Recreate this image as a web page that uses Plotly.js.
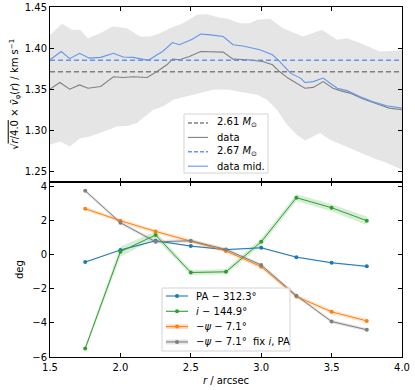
<!DOCTYPE html>
<html>
<head>
<meta charset="utf-8">
<script src="https://cdn.plot.ly/plotly-3.0.1.min.js"></script>
<style>body{margin:0;background:#fff}</style>
</head>
<body>
<div id="chart" style="width:415px;height:390px"></div>
<script>
// top panel: rotation curve scaled by sqrt(r/4.0)
const rData = [1.50,1.57,1.64,1.71,1.77,1.86,1.95,2.02,2.09,2.19,2.26,2.33,2.37,2.42,2.49,2.57,2.73,2.80,2.90,3.01,3.08,3.13,3.19,3.25,3.31,3.37,3.44,3.51,3.56,3.63,3.72,3.82,3.91,4.00];
const vData = [1.3508,1.359,1.3508,1.356,1.352,1.354,1.366,1.365,1.366,1.365,1.3723,1.3805,1.3874,1.3866,1.3906,1.3967,1.396,1.3874,1.3866,1.3845,1.3805,1.3723,1.3643,1.358,1.352,1.353,1.360,1.352,1.349,1.346,1.339,1.333,1.3277,1.3256];

const rMid = [1.50,1.58,1.64,1.71,1.78,1.86,1.95,2.02,2.09,2.14,2.20,2.26,2.30,2.37,2.42,2.51,2.57,2.64,2.73,2.80,2.87,2.99,3.08,3.12,3.21,3.28,3.31,3.37,3.44,3.49,3.54,3.61,3.70,3.79,3.89,4.00];
const vMid = [1.3866,1.3967,1.388,1.3945,1.3886,1.3896,1.3945,1.390,1.3896,1.3876,1.386,1.3927,1.3967,1.4077,1.405,1.4118,1.418,1.417,1.415,1.405,1.4035,1.3988,1.3927,1.3866,1.370,1.3643,1.359,1.360,1.3643,1.358,1.352,1.349,1.3418,1.3357,1.3305,1.3277];

const rHi = [1.50,1.585,1.656,1.713,1.77,1.855,1.947,2.047,2.139,2.21,2.281,2.352,2.445,2.544,2.615,2.707,2.757,2.849,2.92,2.97,3.063,3.155,3.297,3.432,3.538,3.609,3.702,3.842,3.963,4.0];
const bandHi = [1.417,1.4305,1.4232,1.4232,1.413,1.419,1.4272,1.4252,1.415,1.415,1.419,1.4252,1.4313,1.4415,1.4423,1.438,1.437,1.4313,1.4313,1.4354,1.4366,1.4252,1.415,1.4232,1.411,1.413,1.407,1.3967,1.3976,1.3988];
const rLo = [1.50,1.571,1.642,1.713,1.784,1.876,1.976,2.047,2.118,2.189,2.232,2.303,2.374,2.473,2.565,2.658,2.757,2.849,2.97,3.041,3.112,3.183,3.254,3.311,3.418,3.489,3.56,3.68,3.794,3.893,4.0];
const bandLo = [1.283,1.287,1.281,1.291,1.293,1.299,1.3053,1.306,1.3094,1.3195,1.3256,1.3297,1.3378,1.3418,1.346,1.35,1.3505,1.348,1.344,1.3378,1.3256,1.3073,1.295,1.2882,1.2972,1.289,1.283,1.2748,1.2667,1.2606,1.2524];

const fitA = 1.372; // 2.61 Msun
const fitB = 1.386; // 2.67 Msun

// bottom panel: geometry residuals
const rRing = [1.75,2.0,2.25,2.5,2.75,3.0,3.25,3.5,3.75];
const dPA = [-0.43,0.28,0.82,0.51,0.3,0.41,-0.14,-0.47,-0.68];
const dInc = [-5.5,0.18,1.16,-1.04,-1.0,0.76,3.35,2.76,2.0];
const dPsi = [2.7,2.0,1.37,0.8,0.22,-0.7,-2.45,-3.35,-3.88];
const dPsiFix = [3.76,1.88,0.76,0.82,0.31,-0.6,-2.4,-3.92,-4.4];
const ePA = [0.05,0.05,0.05,0.05,0.05,0.05,0.05,0.05,0.05];
const eInc = [0.15,0.3,0.2,0.15,0.15,0.2,0.2,0.2,0.25];
const ePsi = [0.12,0.12,0.12,0.12,0.12,0.12,0.12,0.12,0.12];
const ePsiFix = [0.1,0.1,0.1,0.1,0.1,0.1,0.1,0.1,0.1];

const topLabels = ['2.61 <i>M</i><sub>⊙</sub>', 'data', '2.67 <i>M</i><sub>⊙</sub>', 'data mid.'];
const botLabels = ['PA − 312.3°', '<i>i</i> − 144.9°', '−<i>ψ</i> − 7.1°', '−<i>ψ</i> − 7.1°  fix <i>i</i>, PA'];

const GREY = '#808080', BLUE = '#6495ed';
const C_PA = '#1f77b4', C_I = '#2ca02c', C_PSI = '#ff7f0e', C_FIX = '#7f7f7f';

function band(x, y, e, color) {
    return {
        x: x.concat(x.slice().reverse()),
        y: y.map((v, i) => v + e[i]).concat(y.map((v, i) => v - e[i]).reverse()),
        fill: 'toself', fillcolor: color, line: {width: 0},
        mode: 'lines', hoverinfo: 'skip', xaxis: 'x', yaxis: 'y'
    };
}

function series(x, y, color) {
    return {
        x: x, y: y, mode: 'lines+markers',
        line: {color: color, width: 1}, marker: {color: color, size: 4},
        xaxis: 'x', yaxis: 'y'
    };
}

const traces = [
    {
        x: rHi.concat(rLo.slice().reverse()),
        y: bandHi.concat(bandLo.slice().reverse()),
        fill: 'toself', fillcolor: '#e5e5e5', line: {width: 0},
        mode: 'lines', hoverinfo: 'skip', xaxis: 'x2', yaxis: 'y2'
    },
    {x: [1.5, 4.0], y: [fitA, fitA], mode: 'lines',
     line: {color: GREY, width: 1.4, dash: '5px,3px'}, xaxis: 'x2', yaxis: 'y2'},
    {x: rData, y: vData, mode: 'lines',
     line: {color: GREY, width: 1.1}, xaxis: 'x2', yaxis: 'y2'},
    {x: [1.5, 4.0], y: [fitB, fitB], mode: 'lines',
     line: {color: BLUE, width: 1.4, dash: '5px,3px'}, xaxis: 'x2', yaxis: 'y2'},
    {x: rMid, y: vMid, mode: 'lines',
     line: {color: BLUE, width: 1.1}, xaxis: 'x2', yaxis: 'y2'},

    band(rRing, dPA, ePA, 'rgba(31,119,180,0.2)'),
    band(rRing, dInc, eInc, 'rgba(44,160,44,0.2)'),
    band(rRing, dPsi, ePsi, 'rgba(255,127,14,0.2)'),
    band(rRing, dPsiFix, ePsiFix, 'rgba(127,127,127,0.2)'),
    series(rRing, dPA, C_PA),
    series(rRing, dInc, C_I),
    series(rRing, dPsi, C_PSI),
    series(rRing, dPsiFix, C_FIX)
];

// hand-made legends (matplotlib-like compact boxes)
const L = 50, T = 7, W = 352, H = 350;
const px = x => (x - L) / W;
const py = y => 1 - (y - T) / H;
const shapes = [], annotations = [];

function legendBox(x0, x1, y0, y1) {
    shapes.push({type: 'rect', xref: 'paper', yref: 'paper',
        x0: px(x0), x1: px(x1), y0: py(y1), y1: py(y0),
        fillcolor: 'rgba(255,255,255,0.8)', line: {color: '#d4d4d4', width: 1}});
}
function legendLine(x0, x1, y, color, dash, marker, shade) {
    if (shade) {
        shapes.push({type: 'rect', xref: 'paper', yref: 'paper',
            x0: px(x0), x1: px(x1), y0: py(y + 2.5), y1: py(y - 2.5),
            fillcolor: shade, line: {width: 0}});
    }
    shapes.push({type: 'line', xref: 'paper', yref: 'paper',
        x0: px(x0), x1: px(x1), y0: py(y), y1: py(y),
        line: {color: color, width: dash ? 1.4 : 1.1, dash: dash || 'solid'}});
    if (marker) {
        const xm = (x0 + x1) / 2;
        shapes.push({type: 'circle', xref: 'paper', yref: 'paper',
            x0: px(xm - 2), x1: px(xm + 2), y0: py(y + 2), y1: py(y - 2),
            fillcolor: color, line: {width: 0}});
    }
}
function legendText(x, y, text) {
    annotations.push({xref: 'paper', yref: 'paper', x: px(x), y: py(y),
        xanchor: 'left', yanchor: 'middle', showarrow: false, text: text,
        font: {size: 10, color: '#000'}});
}

legendBox(184, 268, 114, 173);
const topStyles = [[GREY, '4px,2px'], [GREY, null], [BLUE, '4px,2px'], [BLUE, null]];
topLabels.forEach((t, i) => {
    const y = 123 + i * 14.4;
    legendLine(188, 208, y, topStyles[i][0], topStyles[i][1], false);
    legendText(215, y, t);
});

legendBox(162, 290, 288, 351);
const botStyles = [[C_PA, null], [C_I, null], [C_PSI, 'rgba(255,127,14,0.25)'], [C_FIX, 'rgba(127,127,127,0.2)']];
botLabels.forEach((t, i) => {
    const y = 296 + i * 15.3;
    legendLine(166, 188, y, botStyles[i][0], null, true, botStyles[i][1]);
    legendText(194, y, t);
});

const axisStyle = {
    showline: true, linecolor: '#000', linewidth: 1, mirror: 'ticks',
    ticks: 'inside', ticklen: 4, tickcolor: '#000', showgrid: false, zeroline: false,
    tickfont: {size: 10, color: '#000'}
};

const layout = {
    width: 415, height: 390,
    margin: {l: L, r: 415 - L - W, t: T, b: 390 - T - H},
    paper_bgcolor: '#fff', plot_bgcolor: '#fff',
    font: {family: 'DejaVu Sans', size: 10, color: '#000'},
    showlegend: false,
    xaxis: Object.assign({}, axisStyle, {
        range: [1.5, 4.0], dtick: 0.5, tickformat: '.1f', anchor: 'y', ticklabelstandoff: 1,
        title: {text: '<i>r</i> / arcsec', font: {size: 10}, standoff: 4}
    }),
    xaxis2: Object.assign({}, axisStyle, {
        range: [1.5, 4.0], dtick: 0.5, matches: 'x', anchor: 'y2', showticklabels: false
    }),
    yaxis: Object.assign({}, axisStyle, {
        domain: [0, 0.499], range: [-6, 4.25], dtick: 2,
        title: {text: 'deg', font: {size: 10}, standoff: 6}
    }),
    yaxis2: Object.assign({}, axisStyle, {
        domain: [0.501, 1], range: [1.238, 1.451], dtick: 0.05, tickformat: '.2f',
        title: {text: '√<span style="text-decoration:overline"><i>r</i>/4.0</span> × <i>v̄</i><sub>φ</sub>(<i>r</i>) / km s<sup>−1</sup>',
                font: {size: 10}, standoff: 4}
    }),
    shapes: shapes,
    annotations: annotations
};

Plotly.newPlot('chart', traces, layout, {displayModeBar: false, staticPlot: true});
</script>
</body>
</html>
